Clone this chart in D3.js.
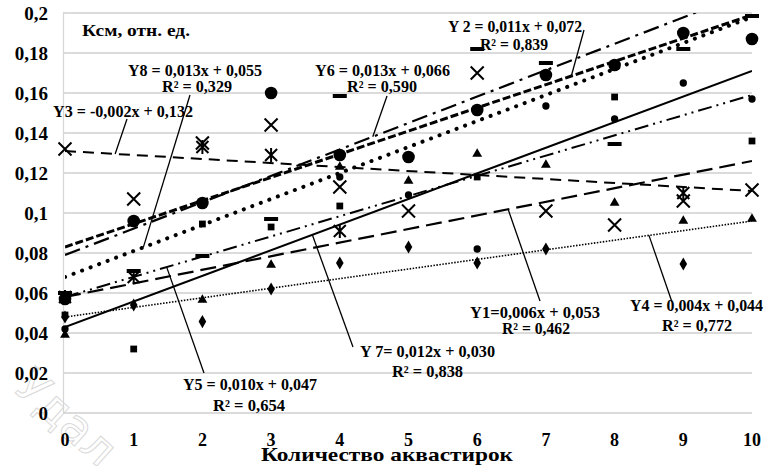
<!DOCTYPE html>
<html>
<head>
<meta charset="utf-8">
<script src="https://cdn.jsdelivr.net/npm/d3@7/dist/d3.min.js"></script>
<style>
  body { margin: 0; background: #fff; }
  text { font-family: "Liberation Serif", "DejaVu Serif", serif; font-weight: bold; fill: #000; }
</style>
</head>
<body>
<div id="chart"></div>
<script>
// x positions (number of aquastirok)
var xValues = [0, 1, 2, 3, 4, 5, 6, 7, 8, 9, 10];
var yTicks = [0, 0.02, 0.04, 0.06, 0.08, 0.1, 0.12, 0.14, 0.16, 0.18, 0.2];
var yTickLabels = ["0", "0,02", "0,04", "0,06", "0,08", "0,1", "0,12", "0,14", "0,16", "0,18", "0,2"];

// measured series (null = hidden / not visible)
var serBigCircle   = [0.057, 0.096, 0.105, 0.160, 0.129, 0.128, 0.1515, 0.169, 0.174, 0.190, 0.187];
var serCross       = [0.132, 0.107, 0.135, 0.144, 0.113, 0.101, 0.170, 0.101, 0.094, 0.106, 0.1115];
var serStar        = [0.058, 0.068, 0.133, 0.129, 0.091, null, null, null, null, 0.110, null];
var serDash        = [0.060, 0.071, 0.0785, 0.097, 0.1585, null, 0.182, 0.175, 0.1345, 0.182, 0.1985];
var serSquare      = [0.049, 0.032, 0.0945, 0.093, 0.1035, null, 0.118, null, 0.158, null, 0.136];
var serSmallCircle = [0.042, null, null, null, 0.118, 0.109, 0.082, 0.1535, 0.147, 0.165, 0.157];
var serTriangle    = [0.039, null, 0.0565, 0.074, 0.123, 0.116, 0.1295, 0.124, 0.105, 0.096, 0.097];
var serDiamond     = [0.048, 0.054, 0.0457, 0.062, 0.075, 0.083, 0.075, 0.082, null, 0.0745, null];

// trend lines: value at x=0 and x=10
var trendNames = ["Y1", "Y2", "Y3", "Y4", "Y5", "Y6", "Y7", "Y8"];
var trendStart = [0.058, 0.083, 0.131, 0.048, 0.058, 0.079, 0.043, 0.068];
var trendEnd   = [0.126, 0.199, 0.111, 0.096, 0.159, 0.211, 0.171, 0.198];
var eqTexts = ["Y1=0,006x + 0,053", "Y 2 = 0,011x + 0,072", "Y3 = -0,002x + 0,132", "Y4 = 0,004x + 0,044",
               "Y5 = 0,010x + 0,047", "Y6 = 0,013x + 0,066", "Y 7= 0,012x + 0,030", "Y8 = 0,013x + 0,055"];
var r2Texts = ["R² = 0,462", "R² = 0,839", "", "R² = 0,772", "R² = 0,654", "R² = 0,590", "R² = 0,838", "R² = 0,329"];
// where the leader touches the trend line (x units)
var leaderAt = [6.45, 7.37, 0.73, 8.5, 1.48, 4.48, 3.6, 1.14];

var svgWidth = 765, svgHeight = 466;
var svg = d3.select("#chart").append("svg")
    .attr("width", svgWidth)
    .attr("height", svgHeight);

var xScale = d3.scaleLinear().domain([0, 10]).range([65, 752]);
var yScale = d3.scaleLinear().domain([0, 0.2]).range([413, 13]);

// faint watermark
svg.append("text")
    .attr("transform", "translate(12,390) rotate(42)")
    .attr("font-size", 46)
    .style("font-family", "DejaVu Sans")
    .style("font-weight", "normal")
    .style("fill", "none")
    .style("stroke", "#d9d9d9")
    .style("stroke-width", 1)
    .text("Удал");

// gridlines
svg.append("g").selectAll("line")
    .data(yTicks)
    .enter().append("line")
    .attr("x1", 63).attr("x2", 752)
    .attr("y1", d => yScale(d)).attr("y2", d => yScale(d))
    .attr("stroke", "#cfcfcf")
    .attr("stroke-width", 1.4);

svg.append("line")
    .attr("x1", 63.5).attr("x2", 63.5)
    .attr("y1", yScale(0.2)).attr("y2", yScale(0))
    .attr("stroke", "#d6d6d6").attr("stroke-width", 1.2);

// y tick labels
svg.append("g").selectAll("text")
    .data(yTicks)
    .enter().append("text")
    .attr("x", 48)
    .attr("y", d => yScale(d))
    .attr("dy", "0.35em")
    .attr("text-anchor", "end")
    .attr("font-size", 19)
    .text((d, i) => yTickLabels[i]);

// x tick labels
svg.append("g").selectAll("text")
    .data(xValues)
    .enter().append("text")
    .attr("x", d => xScale(d))
    .attr("y", 446)
    .attr("text-anchor", "middle")
    .attr("font-size", 18)
    .text(d => d);

svg.append("text")
    .attr("x", 261).attr("y", 461)
    .attr("font-size", 19)
    .attr("textLength", 252)
    .attr("lengthAdjust", "spacingAndGlyphs")
    .text("Количество аквастирок");

svg.append("text")
    .attr("x", 82).attr("y", 36)
    .attr("font-size", 16)
    .attr("textLength", 108)
    .attr("lengthAdjust", "spacingAndGlyphs")
    .text("Ксм, отн. ед.");

// trend lines
svg.append("clipPath").attr("id", "plotClip")
    .append("rect")
    .attr("x", xScale(0)).attr("y", yScale(0.2))
    .attr("width", xScale(10) - xScale(0)).attr("height", yScale(0) - yScale(0.2));

var trendStyle = {
    Y1: { w: 2.2, dash: "16,7" },
    Y2: { w: 3, dash: "8,3" },
    Y3: { w: 2, dash: "11,7" },
    Y4: { w: 1.6, dash: "1.5,1.5" },
    Y5: { w: 2, dash: "14,5,2,5,2,5" },
    Y6: { w: 2.2, dash: "16,6,3,6" },
    Y7: { w: 2, dash: null },
    Y8: { w: 4, dash: "0.1,9", cap: "round" }
};

function trendValue(i, x) {
    return trendStart[i] + (trendEnd[i] - trendStart[i]) * x / 10;
}

var trendGroup = svg.append("g").attr("clip-path", "url(#plotClip)");
trendNames.forEach(function(name, i) {
    var st = trendStyle[name];
    trendGroup.append("line")
        .attr("x1", xScale(0)).attr("y1", yScale(trendStart[i]))
        .attr("x2", xScale(10)).attr("y2", yScale(trendEnd[i]))
        .attr("stroke", "#000")
        .attr("stroke-width", st.w)
        .attr("stroke-dasharray", st.dash)
        .attr("stroke-linecap", st.cap || "butt");
});

// markers
var markers = svg.append("g");

function points(values) {
    return xValues.map((x, i) => ({ x: x, y: values[i] })).filter(d => d.y !== null);
}

function drawSymbol(values, type, size) {
    markers.selectAll(null)
        .data(points(values))
        .enter().append("path")
        .attr("transform", d => `translate(${xScale(d.x)},${yScale(d.y)})`)
        .attr("d", d3.symbol().type(type).size(size))
        .attr("fill", "#000");
}

drawSymbol(serDiamond, d3.symbolDiamond, 50);
drawSymbol(serTriangle, d3.symbolTriangle, 42);
drawSymbol(serSquare, d3.symbolSquare, 46);
drawSymbol(serSmallCircle, d3.symbolCircle, 42);
drawSymbol(serBigCircle, d3.symbolCircle, 125);

// dash marker
markers.selectAll(null)
    .data(points(serDash))
    .enter().append("rect")
    .attr("x", d => xScale(d.x) - 7)
    .attr("y", d => yScale(d.y) - 2)
    .attr("width", 14).attr("height", 4)
    .attr("fill", "#000");

// cross marker
markers.selectAll(null)
    .data(points(serCross))
    .enter().append("path")
    .attr("transform", d => `translate(${xScale(d.x)},${yScale(d.y)})`)
    .attr("d", "M-6.5,-6.5L6.5,6.5M-6.5,6.5L6.5,-6.5")
    .attr("stroke", "#000").attr("stroke-width", 2).attr("fill", "none");

// asterisk marker
markers.selectAll(null)
    .data(points(serStar))
    .enter().append("path")
    .attr("transform", d => `translate(${xScale(d.x)},${yScale(d.y)})`)
    .attr("d", "M-6,-6L6,6M-6,6L6,-6M0,-7L0,7")
    .attr("stroke", "#000").attr("stroke-width", 2).attr("fill", "none");

// labels with leader lines
var labels = [
    { t: 0, x1: 470, y1: 318, w1: 130, x2: 502, y2: 334, w2: 68, lx: 540, ly: 301 },
    { t: 1, x1: 448, y1: 32, w1: 134, x2: 480, y2: 50, w2: 68, lx: 584, ly: 30 },
    { t: 2, x1: 53, y1: 117, w1: 140, lx: 127, ly: 119 },
    { t: 3, x1: 630, y1: 311, w1: 133, x2: 662, y2: 331, w2: 70, lx: 672, ly: 302 },
    { t: 4, x1: 183, y1: 390, w1: 134, x2: 213, y2: 411, w2: 72, lx: 204, ly: 373 },
    { t: 5, x1: 315, y1: 76, w1: 135, x2: 347, y2: 92, w2: 70, lx: 387, ly: 96 },
    { t: 6, x1: 360, y1: 357, w1: 135, x2: 392, y2: 377, w2: 71, lx: 353, ly: 347 },
    { t: 7, x1: 128, y1: 76, w1: 134, x2: 162, y2: 92, w2: 70, lx: 190, ly: 95 }
];

var labelGroup = svg.append("g");
labels.forEach(function(l) {
    var i = l.t;
    labelGroup.append("line")
        .attr("x1", l.lx).attr("y1", l.ly)
        .attr("x2", xScale(leaderAt[i])).attr("y2", yScale(trendValue(i, leaderAt[i])))
        .attr("stroke", "#000").attr("stroke-width", 1.3);
    labelGroup.append("text")
        .attr("x", l.x1).attr("y", l.y1)
        .attr("font-size", 16)
        .attr("textLength", l.w1)
        .attr("lengthAdjust", "spacingAndGlyphs")
        .text(eqTexts[i]);
    if (r2Texts[i]) {
        labelGroup.append("text")
            .attr("x", l.x2).attr("y", l.y2)
            .attr("font-size", 16)
            .attr("textLength", l.w2)
            .attr("lengthAdjust", "spacingAndGlyphs")
            .text(r2Texts[i]);
    }
});
</script>
</body>
</html>
